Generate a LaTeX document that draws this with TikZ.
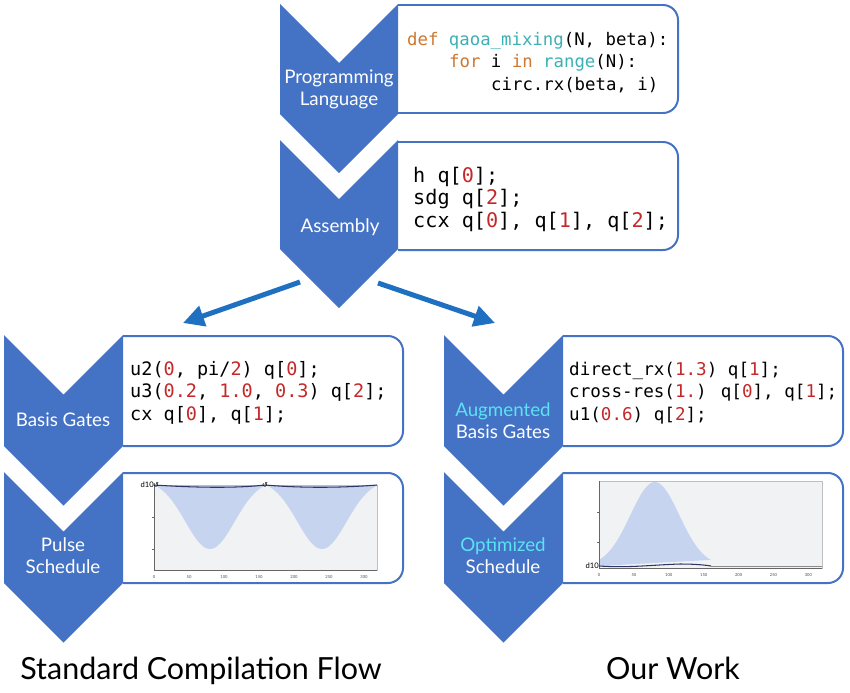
\documentclass[tikz,border=0pt]{standalone}
\usepackage{fontspec}
\setmainfont{Lato}
\newfontfamily\codefont{DejaVu Sans Mono}
\newfontfamily\symfont{DejaVu Sans}
\usetikzlibrary{arrows.meta, positioning, calc}
\definecolor{ChevBlue}{RGB}{68,114,196}
\definecolor{ArrowBlue}{RGB}{31,112,193}
\definecolor{KeyOrange}{RGB}{204,120,50}
\definecolor{FuncTeal}{RGB}{60,176,180}
\definecolor{NumRed}{RGB}{196,40,40}
\definecolor{HiCyan}{RGB}{92,226,242}
\definecolor{PulseFill}{RGB}{198,212,240}
\definecolor{PanelGray}{RGB}{241,242,244}
\definecolor{PulseLine}{RGB}{45,55,95}
\newcommand{\nr}[1]{\textcolor{NumRed}{#1}}
\newcommand{\kw}[1]{\textcolor{KeyOrange}{#1}}
\newcommand{\fn}[1]{\textcolor{FuncTeal}{#1}}
% chevron: left x, right x, top y, bottom y of the sides
\newcommand{\chevronshape}[4]{%
  \fill[ChevBlue] (#1,#3) -- ({(#1+#2)/2},{#3+(#2-#1)/2}) -- (#2,#3) -- (#2,#4)
    -- ({(#1+#2)/2},{#4+(#2-#1)/2}) -- (#1,#4) -- cycle;}
\tikzset{
  codebox/.style={draw=ChevBlue, line width=1.7pt, rounded corners=4.5mm},
  stagelabel/.style={text=white, align=center, font=\fontsize{16}{19}\selectfont, inner sep=0},
  codeline/.style={anchor=base west, inner sep=0},
  flowarrow/.style={draw=ArrowBlue, line width=1.5mm, -{Triangle[length=6.3mm, width=6.2mm]}},
  ticklabel/.style={inner sep=0, text=black!70, font=\fontsize{3.5}{4}\selectfont},
  chanlabel/.style={inner sep=0, anchor=east, font=\fontsize{6.5}{7}\selectfont},
  title/.style={anchor=base, inner sep=0, font=\fontsize{26}{30}\selectfont}
}

\begin{document}
\begin{tikzpicture}[x=0.3mm, y=-0.3mm]
    \useasboundingbox (0,0) rectangle (850,692);
    % code boxes
    \draw[codebox] (398,5) -- (678,5) -- (678,113) -- (398,113);
    \draw[codebox] (398,142) -- (678,142) -- (678,250) -- (398,250);
    \draw[codebox] (123,336) -- (403,336) -- (403,446) -- (123,446);
    \draw[codebox] (123,473) -- (403,473) -- (403,583) -- (123,583);
    \draw[codebox] (563,336) -- (843,336) -- (843,446) -- (563,446);
    \draw[codebox] (563,473) -- (843,473) -- (843,583) -- (563,583);
    % chevrons
    \chevronshape{280}{398}{4}{114}
    \chevronshape{280}{398}{140}{249}
    \chevronshape{4}{123}{335}{446}
    \chevronshape{4}{123}{472}{583}
    \chevronshape{444}{563}{335}{446}
    \chevronshape{444}{563}{472}{583}
    % stage labels
    \node[stagelabel] (plang) at (339,89) {Programming\\Language};
    \node[stagelabel, anchor=base] (asm) at (340,232) {Assembly};
    \node[stagelabel, anchor=base] (basis) at (63,426) {Basis Gates};
    \node[stagelabel] (augbasis) at (503,421) {\textcolor{HiCyan}{Augmented}\\Basis Gates};
    \node[stagelabel] (pulse) at (63,556) {Pulse\\Schedule};
    \node[stagelabel] (optpulse) at (503,556) {\textcolor{HiCyan}{Optimized}\\Schedule};
    % programming language code
    \begin{scope}[every node/.append style={font=\codefont\fontsize{14.8}{19}\selectfont}]
    \node[codeline] (pl1) at (407,45) {\kw{def} \fn{qaoa\_mixing}(N, beta):};
    \node[codeline] (pl2) at (449,67) {\kw{for} i \kw{in} \fn{range}(N):};
    \node[codeline] (pl3) at (491,90) {circ.rx(beta, i)};
    \end{scope}
    % assembly code
    \begin{scope}[every node/.append style={font=\codefont\fontsize{17.2}{19}\selectfont}]
    \node[codeline] (as1) at (413,182) {h q[\nr{0}];};
    \node[codeline] (as2) at (413,204) {sdg q[\nr{2}];};
    \node[codeline] (as3) at (413,227) {ccx q[\nr{0}], q[\nr{1}], q[\nr{2}];};
    \end{scope}
    % basis gates code
    \begin{scope}[every node/.append style={font=\codefont\fontsize{15.8}{19}\selectfont}]
    \node[codeline] (bg1) at (130,375) {u2(\nr{0}, pi/\nr{2}) q[\nr{0}];};
    \node[codeline] (bg2) at (130,397) {u3(\nr{0.2}, \nr{1.0}, \nr{0.3}) q[\nr{2}];};
    \node[codeline] (bg3) at (130,420) {cx q[\nr{0}], q[\nr{1}];};
    \end{scope}
    % augmented basis gates code
    \begin{scope}[every node/.append style={font=\codefont\fontsize{15}{19}\selectfont}]
    \node[codeline] (ag1) at (569,375) {direct\_rx(\nr{1.3}) q[\nr{1}];};
    \node[codeline] (ag2) at (569,397) {cross-res(\nr{1.}) q[\nr{0}], q[\nr{1}];};
    \node[codeline] (ag3) at (569,420) {u1(\nr{0.6}) q[\nr{2}];};
    \end{scope}
    % split arrows
    \coordinate (splitL) at (300,282);
    \coordinate (splitR) at (378,283);
    \coordinate (stdIn) at (183,323);
    \coordinate (oursIn) at (495,323);
    \draw[flowarrow] (splitL) -- (stdIn);
    \draw[flowarrow] (splitR) -- (oursIn);
    % standard pulse schedule
    \fill[PanelGray] (154,485) rectangle (377,570);
    \fill[PulseFill] (154,485)
      -- plot[domain=0:160, samples=60] ({154+0.7*\x},{485+64*(exp(-((\x-80)^2)/2450)-0.0734)/0.9266})
      -- plot[domain=160:320, samples=60] ({154+0.7*\x},{485+64*(exp(-((\x-240)^2)/2450)-0.0734)/0.9266})
      -- cycle;
    \draw[black!25, line width=0.3pt] (154,485) rectangle (377,570);
    \draw[black!60, line width=0.4pt] (154,485) -- (154,570) -- (377,570);
    \foreach \ty in {517,549} \draw[black!60, line width=0.3pt] (152,\ty) -- (154,\ty);
    \draw[PulseLine, line width=0.9pt] (154,485) .. controls (200,488) and (240,488) .. (265,485)
      .. controls (300,488) and (340,488) .. (377,485);
    \node[chanlabel] (stdchan) at (154,485) {d10};
    \node[inner sep=0, font=\symfont\fontsize{6}{6}\selectfont] (stdmark1) at (156,485) {↺};
    \node[inner sep=0, font=\symfont\fontsize{6}{6}\selectfont] (stdmark2) at (265,485) {↺};
    \foreach \t in {0,50,...,300}
      \node[ticklabel] (stdtick\t) at ({154+0.7*\t},577) {\t};
    % optimized pulse schedule
    \fill[PanelGray] (599,481) rectangle (822,568);
    \fill[PulseFill] (599,566)
      -- plot[domain=0:160, samples=60] ({599+0.698*\x},{566-84*exp(-((\x-80)^2)/2450)})
      -- cycle;
    \draw[black!25, line width=0.3pt] (599,481) rectangle (822,568);
    \draw[black!60, line width=0.4pt] (599,481) -- (599,568) -- (822,568);
    \foreach \ty in {512,542} \draw[black!60, line width=0.3pt] (597,\ty) -- (599,\ty);
    \draw[black!45, line width=0.7pt] (711,566) -- (822,566);
    \draw[PulseLine, line width=0.9pt] (599,566) .. controls (630,568) and (650,565) .. (680,564)
      .. controls (695,564) and (705,565) .. (711,566);
    \node[chanlabel] (optchan) at (599,566) {d10};
    \foreach \t in {0,50,...,300}
      \node[ticklabel] (opttick\t) at ({599+0.698*\t},575) {\t};
    % titles
    \node[title] (stdtitle) at (201,679) {Standard Compilation Flow};
    \node[title] (ourtitle) at (673,679) {Our Work};
\end{tikzpicture}
\end{document}
